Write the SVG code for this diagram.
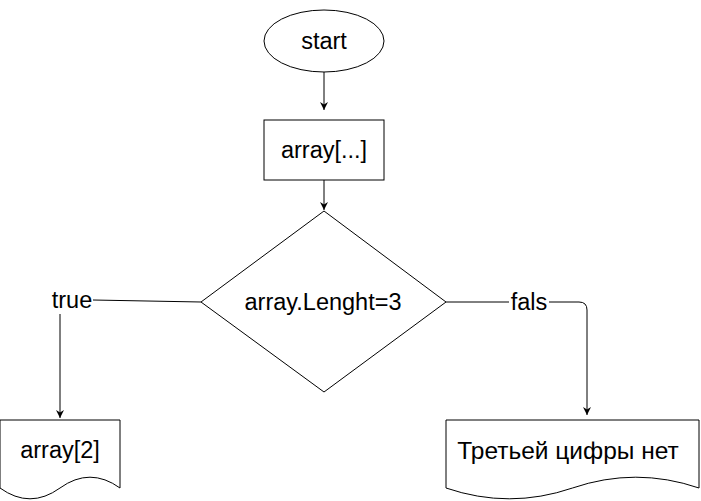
<svg xmlns="http://www.w3.org/2000/svg" width="701" height="501" viewBox="0 0 701 501">
<style>
.s{fill:#fff;stroke:#000;stroke-width:1}
.t{font-family:"Liberation Sans",Arial,sans-serif;font-size:23.5px;fill:#000;text-anchor:middle;dominant-baseline:central}
.e{fill:none;stroke:#000;stroke-width:1}
</style>
<defs>
<marker id="a" viewBox="0 0 10 10" refX="10" refY="5" markerWidth="8" markerHeight="8" markerUnits="userSpaceOnUse" orient="auto">
<path d="M0,0 L10,5 L0,10 L3,5 Z" fill="#000"/>
</marker>
</defs>
<rect width="701" height="501" fill="#fff"/>
<g id="edges">
<path class="e" d="M324,72 V110" marker-end="url(#a)"/>
<path class="e" d="M324,180 V210" marker-end="url(#a)"/>
<path class="e" d="M201,302 L93,300"/>
<path class="e" d="M60,314 V418" marker-end="url(#a)"/>
<path class="e" d="M446,302 H579 Q587,302 587,310 V415" marker-end="url(#a)"/>
<rect x="509" y="290" width="40" height="24" fill="#fff"/>
<text class="t" x="72" y="300">true</text>
<text class="t" x="529" y="302">fals</text>
</g>
<g id="start">
<ellipse class="s" cx="324" cy="41" rx="60" ry="31"/>
<text class="t" x="324" y="41">start</text>
</g>
<g id="array">
<rect class="s" x="264" y="120" width="120" height="60"/>
<text class="t" x="324" y="150">array[...]</text>
</g>
<g id="cond">
<path class="s" d="M324,211 L446,302 L324,392 L201,302 Z"/>
<text class="t" x="323" y="302">array.Lenght=3</text>
</g>
<g id="doc2">
<path class="s" d="M0,420 H120 V488 Q90,466.4 60,488 Q30,509.6 0,488 Z"/>
<text class="t" x="60" y="450">array[2]</text>
</g>
<g id="docno">
<path class="s" d="M446,420 H699 V488 Q635.75,466.4 572.5,488 Q509.25,509.6 446,488 Z"/>
<text class="t" x="568" y="450" style="font-size:24.5px">Третьей цифры нет</text>
</g>
</svg>
